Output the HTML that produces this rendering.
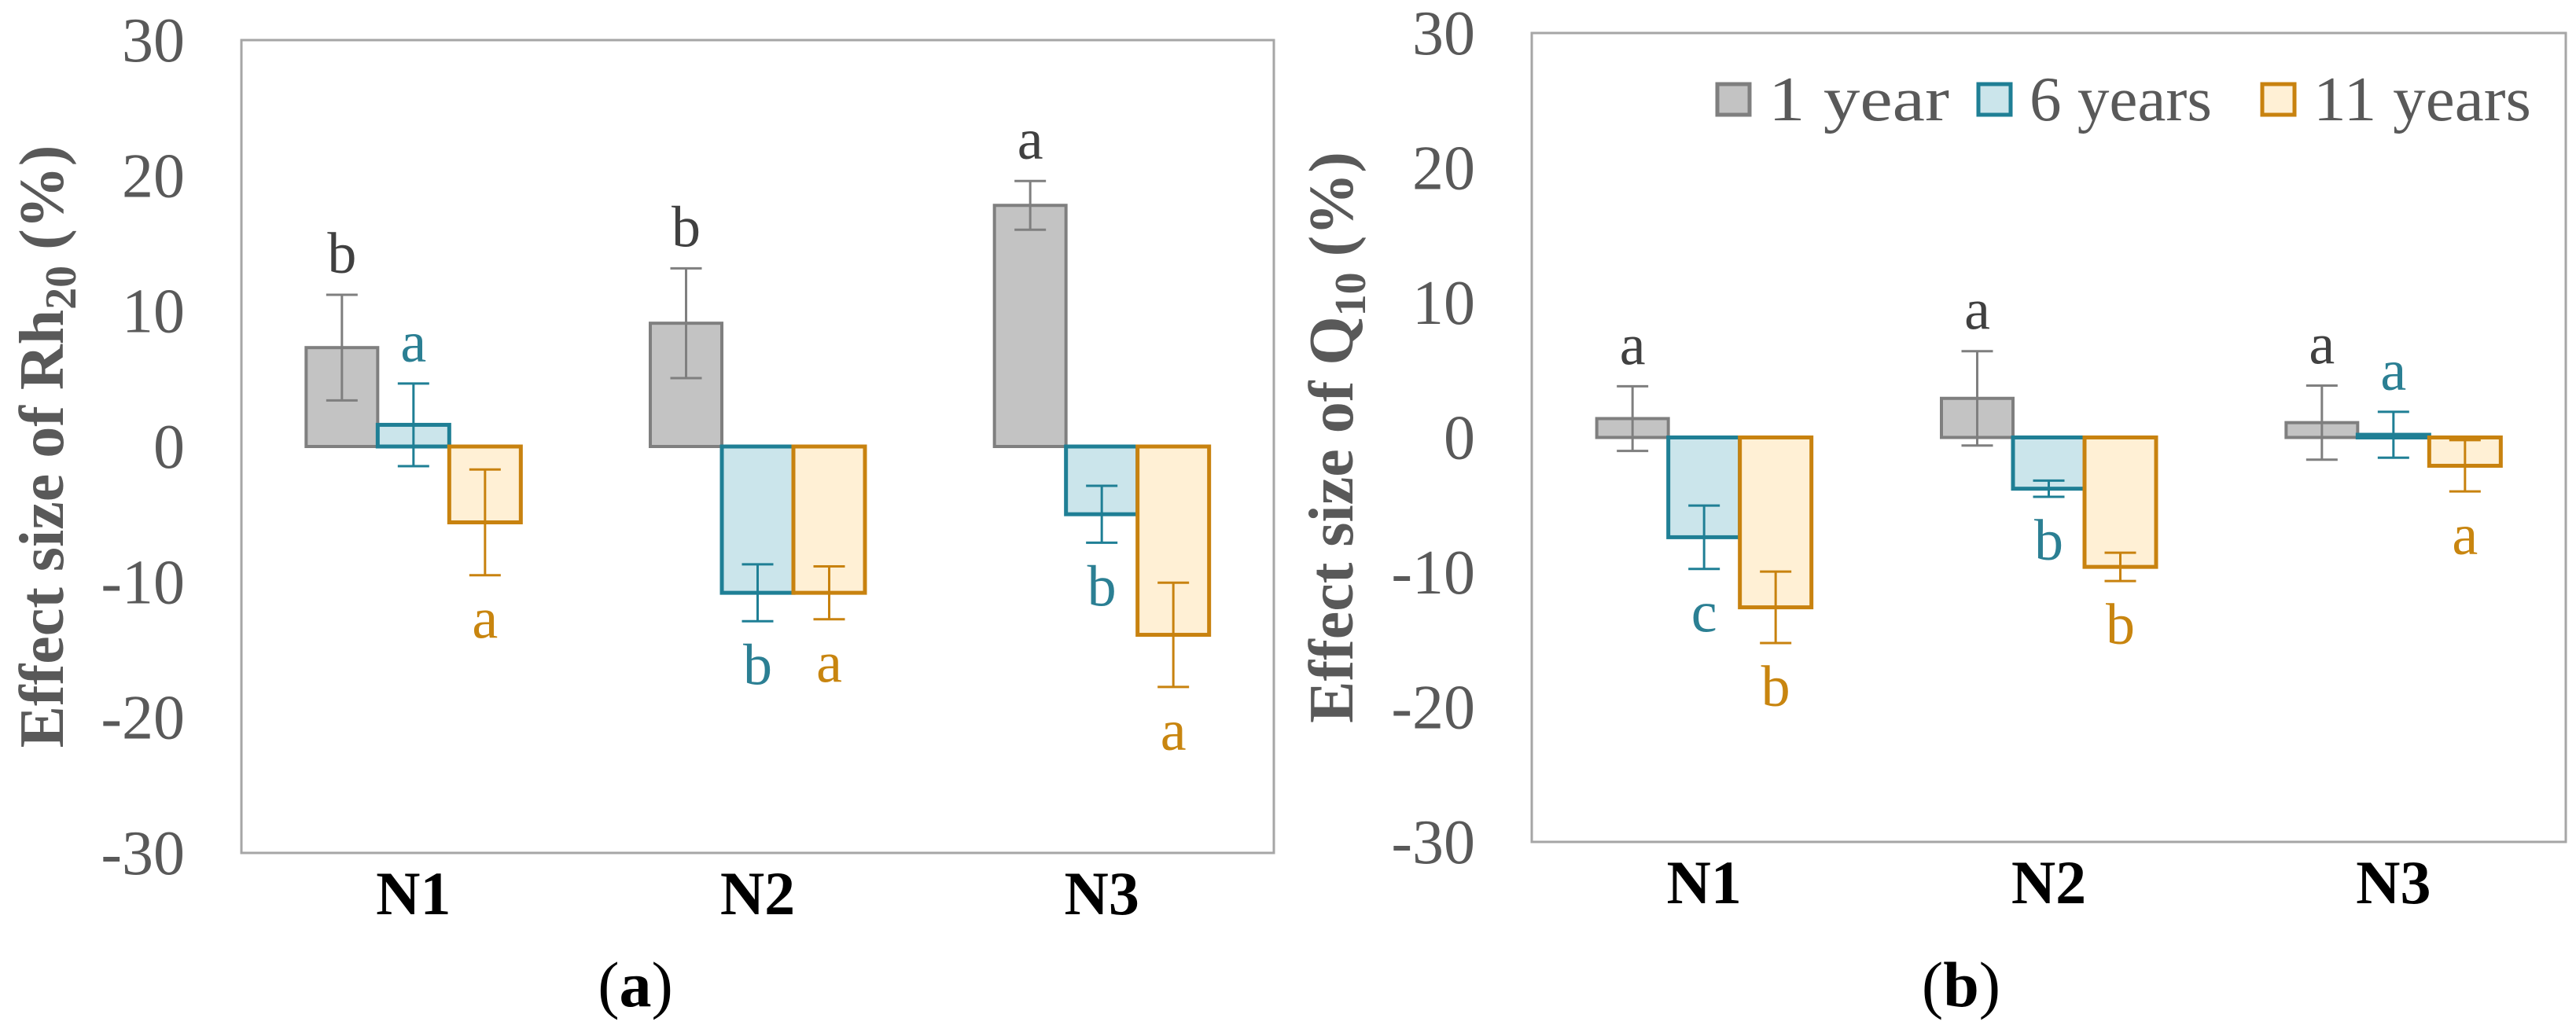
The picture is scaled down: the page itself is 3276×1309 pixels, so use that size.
<!DOCTYPE html>
<html><head><meta charset="utf-8"><style>
html,body{margin:0;padding:0;background:#fff;}
svg{display:block;}
svg text{font-family:"Liberation Serif","DejaVu Serif",serif;}
</style></head><body>
<svg id="chart" width="3276" height="1309" viewBox="0 0 3276 1309" xmlns="http://www.w3.org/2000/svg" font-family="Liberation Serif, DejaVu Serif, serif"></svg>
<script>
const categories = ["N1","N2","N3"];
const seriesNames = ["1 year","6 years","11 years"];
const yTicks = [30,20,10,0,-10,-20,-30];
// Panel a: Rh20 effect size
const rhValues1 = [7.3, 9.1, 17.8];
const rhValues6 = [1.6, -10.8, -5.0];
const rhValues11 = [-5.6, -10.8, -13.9];
const rhErr1 = [3.9, 4.05, 1.8];
const rhErr6 = [3.05, 2.1, 2.1];
const rhErr11 = [3.9, 1.95, 3.85];
const rhLetters1 = ["b","b","a"];
const rhLetters6 = ["a","b","b"];
const rhLetters11 = ["a","a","a"];
// Panel b: Q10 effect size
const qValues1 = [1.4, 2.9, 1.1];
const qValues6 = [-7.4, -3.8, 0.2];
const qValues11 = [-12.6, -9.6, -2.1];
const qErr1 = [2.4, 3.5, 2.75];
const qErr6 = [2.35, 0.6, 1.7];
const qErr11 = [2.65, 1.05, 1.9];
const qLetters1 = ["a","a","a"];
const qLetters6 = ["c","b","a"];
const qLetters11 = ["b","b","a"];

const NS="http://www.w3.org/2000/svg";
const svg=document.getElementById('chart');
const FONT="Liberation Serif, DejaVu Serif, serif";
const styles=[
 {fill:"#c3c3c3",stroke:"#7f7f7f",text:"#404040",sw:4},
 {fill:"#cbe5eb",stroke:"#1f7f95",text:"#2b7f93",sw:5},
 {fill:"#fff0d5",stroke:"#c8820f",text:"#c8850f",sw:5}
];
function mk(tag,attrs,parent){const e=document.createElementNS(NS,tag);for(const k in attrs)e.setAttribute(k,attrs[k]);if(tag==='text')e.setAttribute('font-family',FONT);(parent||svg).appendChild(e);return e;}

function panel(p){
  const g=mk('g',{});
  
  
  const y=v=>p.top+(30-v)*(p.bottom-p.top)/60;
  const bandW=(p.right-p.left)/categories.length;
  const barW=91;
  const fr=mk('rect',{x:p.left,y:p.top,width:p.right-p.left,height:p.bottom-p.top,fill:"none",stroke:"#a6a6a6","stroke-width":3},g);
  
  
  yTicks.forEach(t=>{
    const tx=mk('text',{x:p.tickX,y:y(t)+27,"text-anchor":"end","font-size":80,fill:"#595959"},g);
    tx.textContent=t;
    
    
  });
  const vals=[p.v1,p.v6,p.v11],errs=[p.e1,p.e6,p.e11],lets=[p.l1,p.l6,p.l11];
  categories.forEach((c,i)=>{
    const cx=p.left+bandW*(i+0.5);
    const cl=mk('text',{x:cx,y:p.bottom+78,"text-anchor":"middle","font-size":78,"font-weight":"bold",fill:"#000"},g);
    cl.textContent=c;
    
    
    for(let s=0;s<3;s++){
      const v=vals[s][i],e=errs[s][i],st=styles[s];
      const x0=cx+(s-1.5)*barW;
      const y0=Math.min(y(0),y(v)),h=Math.abs(y(v)-y(0));
      const r=mk('rect',{x:x0,y:y0,width:barW,height:Math.max(h,0.5),fill:st.fill,stroke:st.stroke,"stroke-width":st.sw},g);
      
      
      const bx=x0+barW/2,yt=y(v+e),yb=y(v-e);
      const eb=mk('path',{d:`M${bx},${yt}V${yb}M${bx-20},${yt}H${bx+20}M${bx-20},${yb}H${bx+20}`,stroke:st.stroke,"stroke-width":3,fill:"none"},g);
      
      
      const up = p.letterUp[s][i];
      const ly = up ? yt-28 : yb+80;
      const lt=mk('text',{x:bx,y:ly,"text-anchor":"middle","font-size":74,fill:st.text},g);
      lt.textContent=lets[s][i];
      
      
    }
  });
  const tt=mk('text',{transform:`translate(${p.titleX},${(p.top+p.bottom)/2}) rotate(-90)`,"text-anchor":"middle","font-size":80,"font-weight":"bold",fill:"#595959"},g);
  
  
  const t1=mk('tspan',{},tt);t1.textContent="Effect size of "+p.sym;
  const t2=mk('tspan',{dy:16,"font-size":56},tt);t2.textContent=p.sub;
  const t3=mk('tspan',{dy:-16},tt);t3.textContent=" (%)";
  const pl=mk('text',{x:p.labelX,y:1280,"text-anchor":"middle","font-size":82,fill:"#000"},g);
  
  
  const a=mk('tspan',{},pl);a.textContent="(";
  const b=mk('tspan',{"font-weight":"bold"},pl);b.textContent=p.letter;
  const c2=mk('tspan',{},pl);c2.textContent=")";
}
panel({name:'panel-a-rh20',left:307,right:1620,top:51,bottom:1085,tickX:235,titleX:80,labelX:808,sym:"Rh",sub:"20",letter:"a",
  v1:rhValues1,v6:rhValues6,v11:rhValues11,e1:rhErr1,e6:rhErr6,e11:rhErr11,l1:rhLetters1,l6:rhLetters6,l11:rhLetters11,
  letterUp:[[true,true,true],[true,false,false],[false,false,false]]});
panel({name:'panel-b-q10',left:1948,right:3263,top:42,bottom:1071,tickX:1876,titleX:1720,labelX:2494,sym:"Q",sub:"10",letter:"b",
  v1:qValues1,v6:qValues6,v11:qValues11,e1:qErr1,e6:qErr6,e11:qErr11,l1:qLetters1,l6:qLetters6,l11:qLetters11,
  letterUp:[[true,true,true],[false,false,true],[false,false,false]]});

const leg=mk('g',{});


const legX=[2181,2513,2874];
const legW=[230,232,277];
seriesNames.forEach((n,s)=>{
  const st=styles[s];
  const sq=mk('rect',{x:legX[s]+3,y:107,width:41,height:39,fill:st.fill,stroke:st.stroke,"stroke-width":5},leg);
  
  
  const lt=mk('text',{x:legX[s]+68,y:153,"font-size":80,fill:"#595959",textLength:legW[s],lengthAdjust:"spacingAndGlyphs"},leg);
  lt.textContent=n;
  
  
});
</script>
</body></html>
